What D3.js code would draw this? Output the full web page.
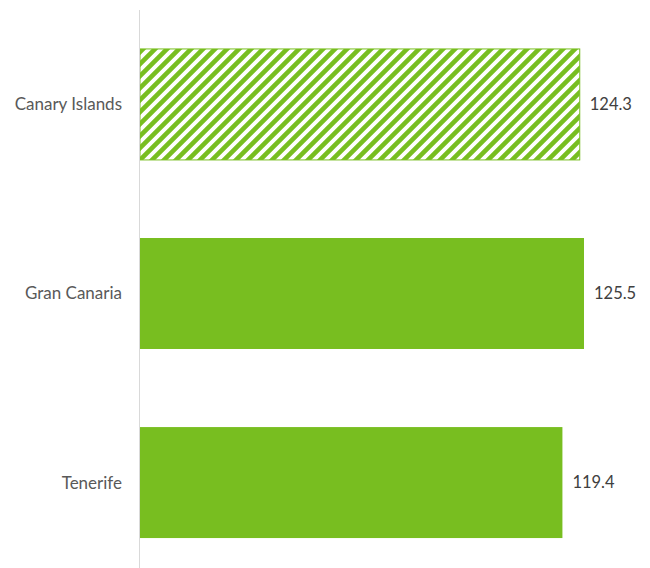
<!DOCTYPE html>
<html>
<head>
<meta charset="utf-8">
<script src="https://cdn.jsdelivr.net/npm/d3@7"></script>
<style>
  html, body { margin: 0; padding: 0; background: #fff; }
  svg { display: block; }
</style>
</head>
<body>
<svg id="chart" width="650" height="568"></svg>
<script>
// Regions and their values
const categories = ["Canary Islands", "Gran Canaria", "Tenerife"];
const values = [124.3, 125.5, 119.4];
// The aggregate row is drawn hatched; the islands are solid
const hatched = [true, false, false];

const width = 650, height = 568;
const axisX = 140;
const green = "#78be20";

const svg = d3.select("#chart");

const x = d3.scaleLinear().domain([0, 125.5]).range([axisX, 584]);
const y = d3.scaleBand().domain(categories).range([10, 577])
  .paddingInner(0.413).paddingOuter(0.206);

// Diagonal hatch pattern
const P = 12;
const defs = svg.append("defs");
const pat = defs.append("pattern")
  .attr("id", "hatch")
  .attr("patternUnits", "userSpaceOnUse")
  .attr("width", P).attr("height", P);
pat.append("rect").attr("width", P).attr("height", P).attr("fill", "#fff");
pat.append("path")
  .attr("d", `M${-P/2},${P/2} L${P/2},${-P/2} M0,${P} L${P},0 M${P/2},${P*1.5} L${P*1.5},${P/2}`)
  .attr("stroke", green).attr("stroke-width", 4.6);

const rows = categories.map((c, i) => ({ c, v: values[i], h: hatched[i] }));

svg.append("g").selectAll("rect")
  .data(rows)
  .join("rect")
  .attr("x", x(0))
  .attr("y", d => y(d.c))
  .attr("width", d => x(d.v) - x(0))
  .attr("height", y.bandwidth())
  .attr("fill", d => d.h ? "url(#hatch)" : green)
  .attr("stroke", d => d.h ? green : "none")
  .attr("stroke-width", 1);

// Vertical category axis line
svg.append("line")
  .attr("x1", axisX - 0.5).attr("x2", axisX - 0.5)
  .attr("y1", 10).attr("y2", height)
  .attr("stroke", "#d9d9d9").attr("stroke-width", 1);

// Category labels
svg.append("g").selectAll("text")
  .data(rows)
  .join("text")
  .attr("x", axisX - 18)
  .attr("y", d => y(d.c) + y.bandwidth() / 2)
  .attr("dy", "0.35em")
  .attr("text-anchor", "end")
  .attr("font-family", "Lato, 'Open Sans', sans-serif")
  .attr("font-size", 17)
  .attr("fill", "#595959")
  .text(d => d.c);

// Value labels
svg.append("g").selectAll("text")
  .data(rows)
  .join("text")
  .attr("x", d => x(d.v) + 10)
  .attr("y", d => y(d.c) + y.bandwidth() / 2)
  .attr("dy", "0.35em")
  .attr("font-family", "Lato, 'Open Sans', sans-serif")
  .attr("font-size", 16.5)
  .attr("fill", "#404040")
  .text(d => d3.format(".1f")(d.v));
</script>
</body>
</html>
